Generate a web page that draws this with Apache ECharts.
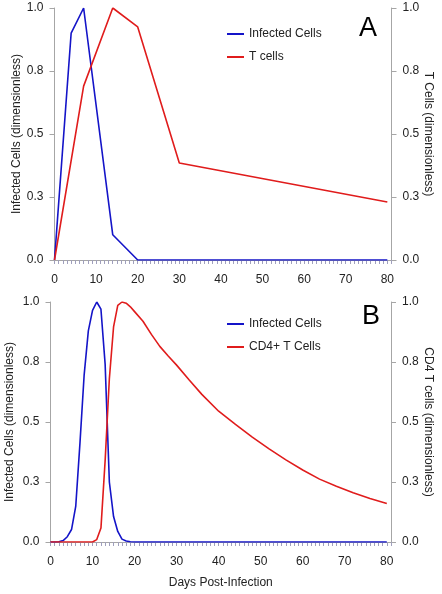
<!DOCTYPE html>
<html>
<head>
<meta charset="utf-8">
<script src="https://cdn.jsdelivr.net/npm/echarts@6/dist/echarts.min.js"></script>
<style>
html,body{margin:0;padding:0;background:#fff;}
#chart{width:442px;height:594px;}
</style>
</head>
<body>
<div id="chart"></div>
<script>
// ---- Data ----
const xTicks = [0, 10, 20, 30, 40, 50, 60, 70, 80];
const yTickValues = [0, 0.25, 0.5, 0.75, 1.0];
const yTickLabels = ['0.0', '0.3', '0.5', '0.8', '1.0'];

// Panel A
const infectedA_days = [0, 4, 7, 14, 20, 80];
const infectedA = [0, 0.9, 1.0, 0.1, 0, 0];
const tcellsA_days = [0, 7, 14, 20, 30, 80];
const tcellsA = [0, 0.69, 1.0, 0.925, 0.385, 0.23];

// Panel B
const infectedB_days = [0, 1, 2, 3, 4, 5, 6, 7, 8, 9, 10, 11, 12, 13, 14, 15, 16, 17, 18, 19, 20, 80];
const infectedB = [0, 0, 0.001, 0.006, 0.022, 0.052, 0.148, 0.41, 0.695, 0.88, 0.965, 1.0, 0.97, 0.74, 0.25, 0.106, 0.044, 0.012, 0.004, 0.001, 0, 0];
const cd4B_days = [0, 10, 11, 12, 13, 14, 15, 16, 17, 18, 19, 20, 22, 24, 26, 28, 30, 33, 36, 40, 44, 48, 52, 56, 60, 64, 68, 72, 76, 80];
const cd4B = [0, 0, 0.01, 0.058, 0.34, 0.68, 0.896, 0.986, 1.0, 0.995, 0.98, 0.96, 0.92, 0.865, 0.815, 0.775, 0.737, 0.675, 0.615, 0.545, 0.49, 0.437, 0.388, 0.342, 0.3, 0.262, 0.232, 0.205, 0.181, 0.16];

const seriesNamesA = ['Infected Cells', 'T cells'];
const seriesNamesB = ['Infected Cells', 'CD4+ T Cells'];
const yNameLeft = 'Infected Cells (dimensionless)';
const yNameRightA = 'T Cells (dimensionless)';
const yNameRightB = 'CD4 T cells (dimensionless)';
const xName = 'Days Post-Infection';
const panelLabels = ['A', 'B'];

// ---- Styles ----
const FONT = 'Liberation Sans, Arial, sans-serif';
const BLUE = '#1414c8';
const RED = '#e01c1c';
const AXIS = '#a6a6a6';
const TXT = '#222';

function pairs(xs, ys) { return xs.map((x, i) => [x, ys[i]]); }
function yFmt(v) {
  for (let i = 0; i < yTickValues.length; i++) if (Math.abs(v - yTickValues[i]) < 1e-6) return yTickLabels[i];
  return '';
}
function xFmt(v) { return xTicks.indexOf(v) >= 0 ? String(v) : ''; }

function makeX(gridIndex, showName) {
  return {
    type: 'value', gridIndex: gridIndex, min: 0, max: 81, interval: 10,
    name: showName ? xName : '', nameLocation: 'middle', nameGap: 35, nameMoveOverlap: false,
    nameTextStyle: { fontFamily: FONT, fontSize: 12, color: TXT },
    axisLine: { show: true, lineStyle: { color: AXIS, width: 1 } },
    axisTick: { show: true, length: 4, lineStyle: { color: '#a0a0bc' } },
    minorTick: { show: true, splitNumber: 10, length: 4, lineStyle: { color: '#a0a0bc' } },
    axisLabel: { formatter: xFmt, showMaxLabel: false, fontFamily: FONT, fontSize: 12, color: TXT, margin: 14 },
    splitLine: { show: false }
  };
}
function makeY(gridIndex, pos, name, gap, rot) {
  return {
    type: 'value', gridIndex: gridIndex, position: pos, min: 0, max: 1, interval: 0.25,
    name: name, nameLocation: 'middle', nameGap: gap, nameRotate: rot, nameMoveOverlap: false,
    nameTextStyle: { fontFamily: FONT, fontSize: 12, color: TXT },
    axisLine: { show: true, lineStyle: { color: AXIS, width: 1 } },
    axisTick: { show: true, length: 5, lineStyle: { color: AXIS } },
    axisLabel: { formatter: yFmt, fontFamily: FONT, fontSize: 12, color: TXT, margin: 11 },
    splitLine: { show: false }
  };
}
function makeLine(name, data, xi, yi, color) {
  return {
    type: 'line', name: name, data: data, xAxisIndex: xi, yAxisIndex: yi,
    showSymbol: false, symbol: 'none', smooth: false,
    lineStyle: { color: color, width: 1.6 }, itemStyle: { color: color },
    animation: false
  };
}
function makeLegend(names, top) {
  return {
    orient: 'vertical', left: 222, top: top, itemGap: 9,
    icon: 'rect', itemWidth: 17, itemHeight: 2,
    data: names,
    textStyle: { fontFamily: FONT, fontSize: 12, color: TXT, lineHeight: 14 },
    selectedMode: false
  };
}

const option = {
  backgroundColor: '#fff',
  animation: false,
  title: [
    { text: panelLabels[0], left: 354, top: 10, textStyle: { fontFamily: FONT, fontSize: 27, fontWeight: 'normal', color: '#000' } },
    { text: panelLabels[1], left: 357, top: 298, textStyle: { fontFamily: FONT, fontSize: 27, fontWeight: 'normal', color: '#000' } }
  ],
  legend: [makeLegend(seriesNamesA, 22), makeLegend(seriesNamesB, 312)],
  grid: [
    { left: 54.5, right: 50.5, top: 8, height: 252, containLabel: false, outerBoundsMode: 'none' },
    { left: 50.5, right: 51, top: 302, height: 240, containLabel: false, outerBoundsMode: 'none' }
  ],
  xAxis: [makeX(0, false), makeX(1, true)],
  yAxis: [
    makeY(0, 'left', yNameLeft, 32, 90),
    makeY(0, 'right', yNameRightA, 31, -90),
    makeY(1, 'left', yNameLeft, 35, 90),
    makeY(1, 'right', yNameRightB, 31, -90)
  ],
  series: [
    makeLine(seriesNamesA[0], pairs(infectedA_days, infectedA), 0, 0, BLUE),
    makeLine(seriesNamesA[1], pairs(tcellsA_days, tcellsA), 0, 1, RED),
    makeLine(seriesNamesB[0], pairs(infectedB_days, infectedB), 1, 2, BLUE),
    makeLine(seriesNamesB[1], pairs(cd4B_days, cd4B), 1, 3, RED)
  ]
};

const chart = echarts.init(document.getElementById('chart'), null, { renderer: 'canvas' });
chart.setOption(option);
</script>
</body>
</html>
